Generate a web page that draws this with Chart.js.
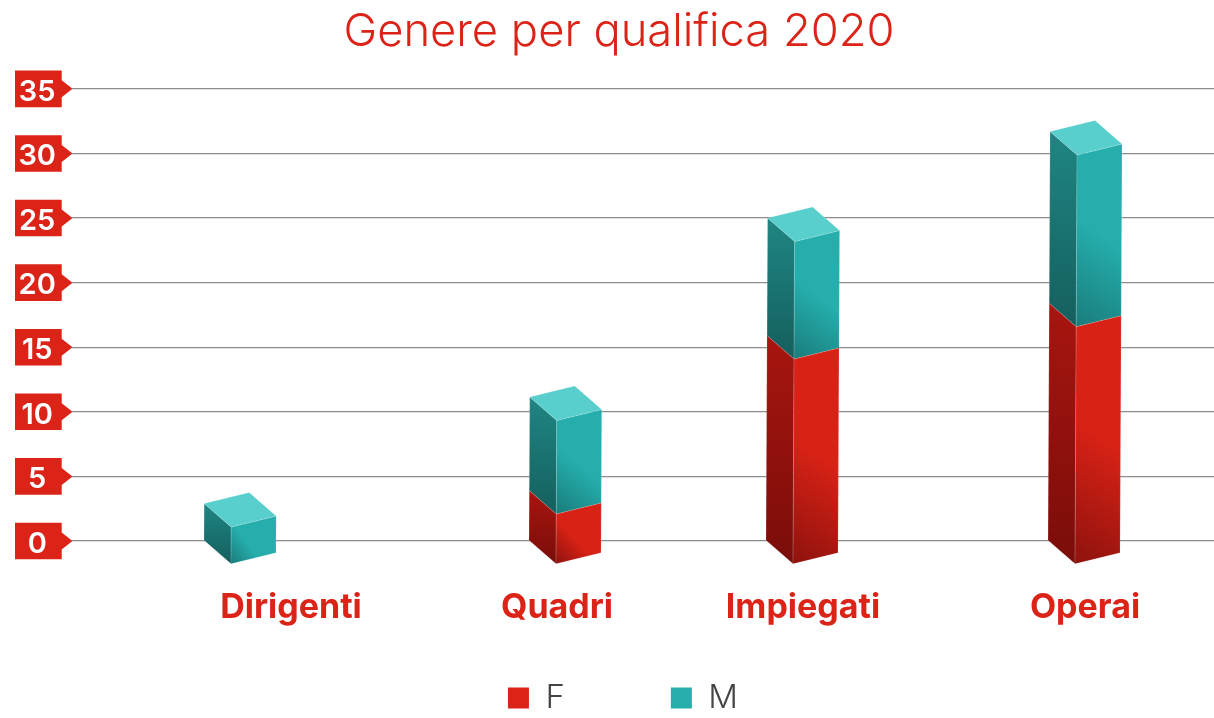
<!DOCTYPE html>
<html>
<head>
<meta charset="utf-8">
<script src="https://cdn.jsdelivr.net/npm/chart.js@4/dist/chart.umd.js"></script>
<style>
html,body{margin:0;padding:0;background:#fff;overflow:hidden}
#wrap{width:1214px;height:718px}
</style>
</head>
<body>
<div id="wrap"><canvas id="c" width="1214" height="718"></canvas></div>
<script>
const categories = ["Dirigenti", "Quadri", "Impiegati", "Operai"];
const valuesF = [0, 3.9, 15.9, 18.4];
const valuesM = [2.9, 7.25, 9.1, 13.3];
const yTicks = [0, 5, 10, 15, 20, 25, 30, 35];
const barNudge = [25.25, 64.75, 16.25, 12.75];
const labelNudge = [76.25, 56.75, 17.25, 13.75];

const RED = "#dc2318", TEAL = "#25aeac";
const FONT = "Inter, 'Open Sans', sans-serif";
const palette = {
  [RED]: {front: "#d92216", dark: "#8e120d", leftTop: "#a8150f", leftBot: "#7a0d0a", top: "#e5453b"},
  [TEAL]: {front: TEAL, dark: "#197c7b", leftTop: "#1f8683", leftBot: "#145f5e", top: "#58cfcc"}
};

function poly(ctx, pts, fill) {
  ctx.beginPath();
  pts.forEach((p, i) => i ? ctx.lineTo(p[0], p[1]) : ctx.moveTo(p[0], p[1]));
  ctx.closePath();
  ctx.fillStyle = fill;
  ctx.fill();
  ctx.lineWidth = 0.8;
  ctx.strokeStyle = "rgba(255,255,255,0.18)";
  ctx.stroke();
}

class Bar3D extends Chart.BarController {
  draw() {
    const ctx = this.chart.ctx;
    const idx = this.index;
    const n = this.chart.data.datasets.length;
    const zero = this.chart.scales.y.getPixelForValue(0);
    const col = palette[this.getDataset().backgroundColor];
    const W = 72, D = 27, DROP = 23.5, RISE = 11;
    this._cachedMeta.data.forEach((bar, i) => {
      if (this.getParsed(i).y === 0) return;
      const cx = bar.x + barNudge[i];
      const lean = y => (zero - y) * 0.005;
      const topY = bar.y, botY = bar.base;
      const h = botY - topY;
      const L = cx - W / 2;
      const lt = [L + lean(topY), topY], lb = [L + lean(botY), botY];
      const ft = [lt[0] + D, topY + DROP], fb = [lb[0] + D, botY + DROP];
      const rt = [ft[0] + W - D, ft[1] - RISE], rb = [fb[0] + W - D, fb[1] - RISE];
      const bk = [lt[0] + W - D, topY - RISE];
      ctx.save();
      const gl = ctx.createLinearGradient(0, topY, 0, botY + DROP);
      gl.addColorStop(0, col.leftTop);
      gl.addColorStop(1, col.leftBot);
      poly(ctx, [lt, ft, fb, lb], gl);
      const gf = ctx.createLinearGradient(fb[0], fb[1], fb[0] + 0.4 * h + 22, fb[1] - 0.8 * h);
      gf.addColorStop(0, col.dark);
      gf.addColorStop(0.55, col.front);
      gf.addColorStop(1, col.front);
      poly(ctx, [ft, rt, rb, fb], gf);
      if (idx === n - 1) poly(ctx, [lt, bk, rt, ft], col.top);
      ctx.restore();
    });
  }
}
Bar3D.id = "bar3d";
Bar3D.defaults = Chart.BarController.defaults;
Chart.register(Bar3D);

const tagPlugin = {
  id: "tags",
  beforeLayout(chart) {
    const lg = chart.legend;
    if (lg && !lg._wrapped) {
      const f = lg.fit;
      lg.fit = function () { f.call(this); this.height = 40; };
      lg._wrapped = true;
    }
  },
  afterLayout(chart) {
    chart.scales.y.left = 0;
    chart.legend.top = 575.5;
    chart.legend.left += 8;
  },
  afterUpdate(chart) {
    chart.scales.x.getLabelItems().forEach((it, i) => {
      it.options.translation[0] += labelNudge[i];
    });
    chart.scales.y.getLabelItems().forEach(it => {
      it.options.translation[0] += 3;
      it.options.translation[1] += 3;
    });
  },
  beforeDraw(chart) {
    const ctx = chart.ctx, y = chart.scales.y;
    ctx.save();
    ctx.fillStyle = RED;
    y.ticks.forEach(t => {
      const p = y.getPixelForValue(t.value);
      ctx.beginPath();
      ctx.moveTo(15, p - 18.3);
      ctx.lineTo(61.7, p - 18.3);
      ctx.lineTo(61.7, p - 8.5);
      ctx.lineTo(72.5, p);
      ctx.lineTo(61.7, p + 8.5);
      ctx.lineTo(61.7, p + 18.3);
      ctx.lineTo(15, p + 18.3);
      ctx.closePath();
      ctx.fill();
    });
    ctx.restore();
  }
};

new Chart(document.getElementById("c"), {
  type: "bar3d",
  data: {
    labels: categories,
    datasets: [
      {label: "F", data: valuesF, backgroundColor: RED, borderWidth: 0, clip: false},
      {label: "M", data: valuesM, backgroundColor: TEAL, borderWidth: 0, clip: false}
    ]
  },
  plugins: [tagPlugin],
  options: {
    responsive: false,
    animation: false,
    layout: {padding: {left: 24, right: 0, top: 0, bottom: 0}},
    scales: {
      x: {
        type: "category",
        stacked: true,
        offset: true,
        afterFit(s) { s.height = 137; },
        grid: {display: false, drawTicks: false},
        border: {display: false},
        ticks: {
          padding: 46,
          color: RED,
          maxRotation: 0,
          autoSkip: false,
          font: {family: FONT, size: 34, weight: "700"}
        }
      },
      y: {
        type: "linear",
        stacked: true,
        min: 0,
        max: 35,
        afterBuildTicks(s) { s.ticks = yTicks.map(v => ({value: v})); },
        afterFit(s) { s.width = 48; },
        grid: {color: "#8c8c8c", lineWidth: 1.3, drawTicks: false},
        border: {display: false},
        ticks: {
          padding: 19,
          crossAlign: "center",
          color: "#ffffff",
          font: {family: FONT, size: 29, weight: "600"}
        }
      }
    },
    plugins: {
      title: {
        display: true,
        text: "Genere per qualifica 2020",
        color: RED,
        padding: {top: 5, bottom: 29.5},
        font: {family: FONT, size: 45.3, weight: "300"}
      },
      legend: {
        display: true,
        position: "bottom",
        labels: {
          boxWidth: 21,
          boxHeight: 21,
          padding: 106,
          color: "#444444",
          font: {family: FONT, size: 33, weight: "300"}
        }
      },
      tooltip: {enabled: false}
    }
  }
});
</script>
</body>
</html>
